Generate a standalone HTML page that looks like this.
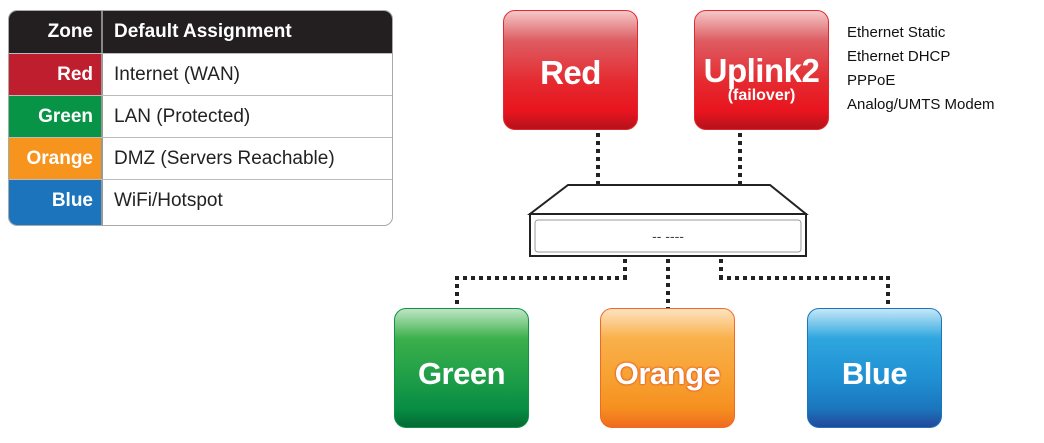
<!DOCTYPE html>
<html><head><style>
body{margin:0;width:1044px;height:443px;background:#fff;position:relative;overflow:hidden;font-family:"Liberation Sans",sans-serif}
.tbl{position:absolute;left:8px;top:10px;width:383px;height:214px;border:1px solid #aaa;border-radius:9px;overflow:hidden;background:#fff}
.row{position:absolute;left:0;width:383px;height:41px;border-top:1px solid #bbb}
.z{position:absolute;left:0;top:0;width:94px;height:100%;color:#fff;font-weight:bold;font-size:19px;text-align:right;box-sizing:border-box;padding-right:8px;border-right:2px solid #999}
.d{position:absolute;left:105px;font-size:19px;color:#222}
.box{position:absolute;width:135px;height:120px;border-radius:12px;color:#fff;font-weight:bold;text-align:center;font-size:31px;box-sizing:border-box;letter-spacing:-0.5px}
.dv{position:absolute;width:4px;background:repeating-linear-gradient(to bottom,#222 0 4px,transparent 4px 8px)}
.dh{position:absolute;height:4px;background:repeating-linear-gradient(to right,#222 0 4px,transparent 4px 8px)}
.info{position:absolute;left:847px;font-size:15px;color:#111}
</style></head><body>
<div class="tbl">
 <div class="row" style="top:0;height:42px;background:#231f20;border:none">
  <div class="z" style="line-height:42px;border-right-color:#888">Zone</div>
  <div class="d" style="color:#fff;font-weight:bold;line-height:42px">Default Assignment</div></div>
 <div class="row" style="top:42px"><div class="z" style="background:#be1e2d;line-height:41px">Red</div><div class="d" style="line-height:41px">Internet (WAN)</div></div>
 <div class="row" style="top:84px"><div class="z" style="background:#079447;line-height:41px">Green</div><div class="d" style="line-height:41px">LAN (Protected)</div></div>
 <div class="row" style="top:126px"><div class="z" style="background:#f7941d;line-height:41px">Orange</div><div class="d" style="line-height:41px">DMZ (Servers Reachable)</div></div>
 <div class="row" style="top:168px;height:46px"><div class="z" style="background:#1c75bc;line-height:41px">Blue</div><div class="d" style="line-height:41px">WiFi/Hotspot</div></div>
</div>

<div class="box" style="left:503px;top:10px;background:linear-gradient(#f5c8c8 0%,#dd5d62 25%,#e52a30 60%,#e8141e 85%,#b5121b 100%);border:1px solid #e02a30;line-height:124px;font-size:33px">Red</div>
<div class="box" style="left:694px;top:10px;background:linear-gradient(#f5c8c8 0%,#dd5d62 25%,#e52a30 60%,#e8141e 85%,#b5121b 100%);border:1px solid #e02a30;padding-top:44px;line-height:32px;font-size:33px">Uplink2<div style="font-size:16px;line-height:18px;letter-spacing:0">(failover)</div></div>

<div class="info" style="top:24px">Ethernet Static</div>
<div class="info" style="top:48px">Ethernet DHCP</div>
<div class="info" style="top:72px">PPPoE</div>
<div class="info" style="top:96px">Analog/UMTS Modem</div>

<div class="dv" style="left:596px;top:133px;height:52px"></div>
<div class="dv" style="left:738px;top:133px;height:52px"></div>

<svg style="position:absolute;left:0;top:0" width="1044" height="443">
 <polygon points="568,185 770,185 806,214 530,214" fill="#fff" stroke="#222" stroke-width="2"/>
 <rect x="530" y="214" width="276" height="42" fill="#fff" stroke="#222" stroke-width="2"/>
 <rect x="535" y="220" width="266" height="32" rx="3" fill="#fff" stroke="#999" stroke-width="1"/>
 <text x="668" y="241" font-family="Liberation Sans" font-size="14" fill="#444" text-anchor="middle">-- ----</text>
</svg>

<div class="dv" style="left:623px;top:259px;height:20px"></div>
<div class="dh" style="left:455px;top:276px;width:172px"></div>
<div class="dv" style="left:455px;top:276px;height:32px"></div>
<div class="dv" style="left:666px;top:259px;height:49px"></div>
<div class="dv" style="left:719px;top:259px;height:20px"></div>
<div class="dh" style="left:719px;top:276px;width:171px"></div>
<div class="dv" style="left:886px;top:276px;height:32px"></div>

<div class="box" style="left:394px;top:308px;background:linear-gradient(#bfe5c5 0%,#3bb04a 25%,#1d9d48 60%,#078c44 85%,#056a33 100%);border:1px solid #0a9444;line-height:130px">Green</div>
<div class="box" style="left:600px;top:308px;background:linear-gradient(#fde3c0 0%,#f9b04a 25%,#f7a030 60%,#f58f1f 85%,#f06a1f 100%);border:1px solid #f06a25;line-height:130px;text-shadow:0 0 2px #e2521f,0 0 2px #e2521f">Orange</div>
<div class="box" style="left:807px;top:308px;background:linear-gradient(#c4e7f7 0%,#2ea6df 25%,#1f8fd2 60%,#1b75bc 85%,#23479b 100%);border:1px solid #1b75bc;line-height:130px">Blue</div>
</body></html>
